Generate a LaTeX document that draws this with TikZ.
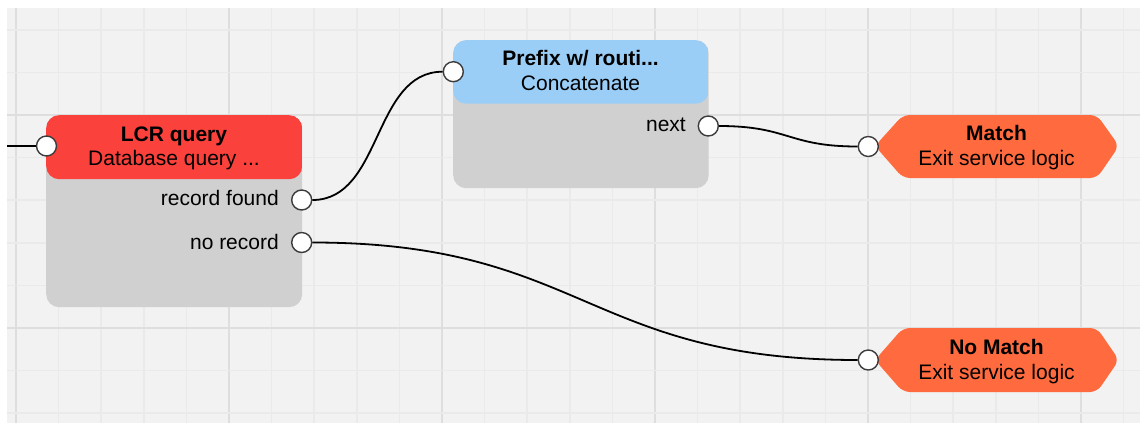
\documentclass[tikz,border=0pt]{standalone}
\usepackage{fontspec}
\setmainfont{Liberation Sans}
\definecolor{bgc}{RGB}{242,242,242}
\definecolor{minorc}{RGB}{234,234,234}
\definecolor{majorc}{RGB}{222,222,222}
\definecolor{hdrred}{RGB}{250,65,60}
\definecolor{hdrblue}{RGB}{155,206,246}
\definecolor{bodygrey}{RGB}{208,208,208}
\definecolor{exitorange}{RGB}{255,106,62}
\definecolor{portedge}{RGB}{60,60,60}
\tikzset{
  txt/.style={font=\fontsize{21}{25}\selectfont, inner sep=0pt, anchor=base},
  ttl/.style={txt, font=\fontsize{21}{25}\selectfont\bfseries},
  lbl/.style={txt, anchor=base east},
  port/.style={circle, draw=portedge, line width=1.4pt, fill=white, minimum size=20pt, inner sep=0pt},
  wire/.style={black, line width=1.8pt},
  blockbox/.style={draw=none, fill=bodygrey, rounded corners=13pt, inner sep=0pt, anchor=north west},
  exitshape/.style={fill=exitorange, rounded corners=7pt}
}
\begin{document}
\begin{tikzpicture}[x=1pt, y=-1pt]
\useasboundingbox (0,0) rectangle (1140,423);
% background and grid
\fill[bgc] (7,8) rectangle (1140,423);
\begin{scope}
  \clip (7,8) rectangle (1140,423);
  \foreach \i in {0,...,26}{
    \pgfmathtruncatemacro{\m}{mod(\i,5)}
    \ifnum\m=0
      \draw[majorc, line width=2.2pt] ({16+42.6*\i},8) -- ({16+42.6*\i},423);
    \else
      \draw[minorc, line width=1.6pt] ({16+42.6*\i},8) -- ({16+42.6*\i},423);
    \fi
  }
  \foreach \j in {0,...,9}{
    \pgfmathtruncatemacro{\m}{mod(\j,5)}
    \ifnum\m=2
      \draw[majorc, line width=2.2pt] (7,{115+42.6*(\j-2)}) -- (1140,{115+42.6*(\j-2)});
    \else
      \draw[minorc, line width=1.6pt] (7,{115+42.6*(\j-2)}) -- (1140,{115+42.6*(\j-2)});
    \fi
  }
\end{scope}

% LCR query block
\node[blockbox, minimum width=256pt, minimum height=192pt,
  path picture={\fill[hdrred] (path picture bounding box.north west) rectangle ([yshift=-64pt]path picture bounding box.north east);}]
  (lcr) at (46,115) {};
\node[ttl] (lcrtitle) at (174,141) {LCR query};
\node[txt] (lcrsub) at (174,165.5) {Database query ...};
\node[lbl] (lcrfoundlbl) at (279,205) {record found};
\node[lbl] (lcrnolbl) at (279,249) {no record};

% Prefix block
\node[blockbox, minimum width=255.5pt, minimum height=148pt,
  path picture={\fill[hdrblue] (path picture bounding box.north west) rectangle ([yshift=-63.5pt]path picture bounding box.north east);}]
  (prefix) at (453,40) {};
\node[ttl] (prefixtitle) at (580.5,65) {Prefix w/ routi...};
\node[txt] (prefixsub) at (580.5,90) {Concatenate};
\node[lbl] (nextlbl) at (686,131.5) {next};

% Exit blocks
\fill[exitshape] (875,146) -- (903,115) -- (1097,115) -- (1119,146) -- (1097,178) -- (903,178) -- cycle;
\node[inner sep=0pt, minimum width=244pt, minimum height=63pt] (match) at (997,146.5) {};
\node[ttl] (matchtitle) at (996.5,140.5) {Match};
\node[txt] (matchsub) at (996.5,165) {Exit service logic};

\fill[exitshape] (875,360) -- (903,328) -- (1097,328) -- (1119,360) -- (1097,392) -- (903,392) -- cycle;
\node[inner sep=0pt, minimum width=244pt, minimum height=64pt] (nomatch) at (997,360) {};
\node[ttl] (nomatchtitle) at (996.5,354) {No Match};
\node[txt] (nomatchsub) at (996.5,379) {Exit service logic};

% ports
\node[port] (lcrin) at (46.5,146) {};
\node[port] (lcrfound) at (301.7,200) {};
\node[port] (lcrno) at (301.7,242.5) {};
\node[port] (prefin) at (453.3,71.7) {};
\node[port] (prefnext) at (708.3,126) {};
\node[port] (matchin) at (868.3,146.5) {};
\node[port] (nomatchin) at (868.3,360) {};
\coordinate (entry) at (7,146);

% wires
\draw[wire] (entry) -- (lcrin.west);
\draw[wire] (lcrfound.east) .. controls +(70,0) and +(-70,0) .. (prefin.west);
\draw[wire] (lcrno.east) .. controls +(270,0) and +(-270,0) .. (nomatchin.west);
\draw[wire] (prefnext.east) .. controls +(70,0) and +(-70,0) .. (matchin.west);
\end{tikzpicture}
\end{document}
